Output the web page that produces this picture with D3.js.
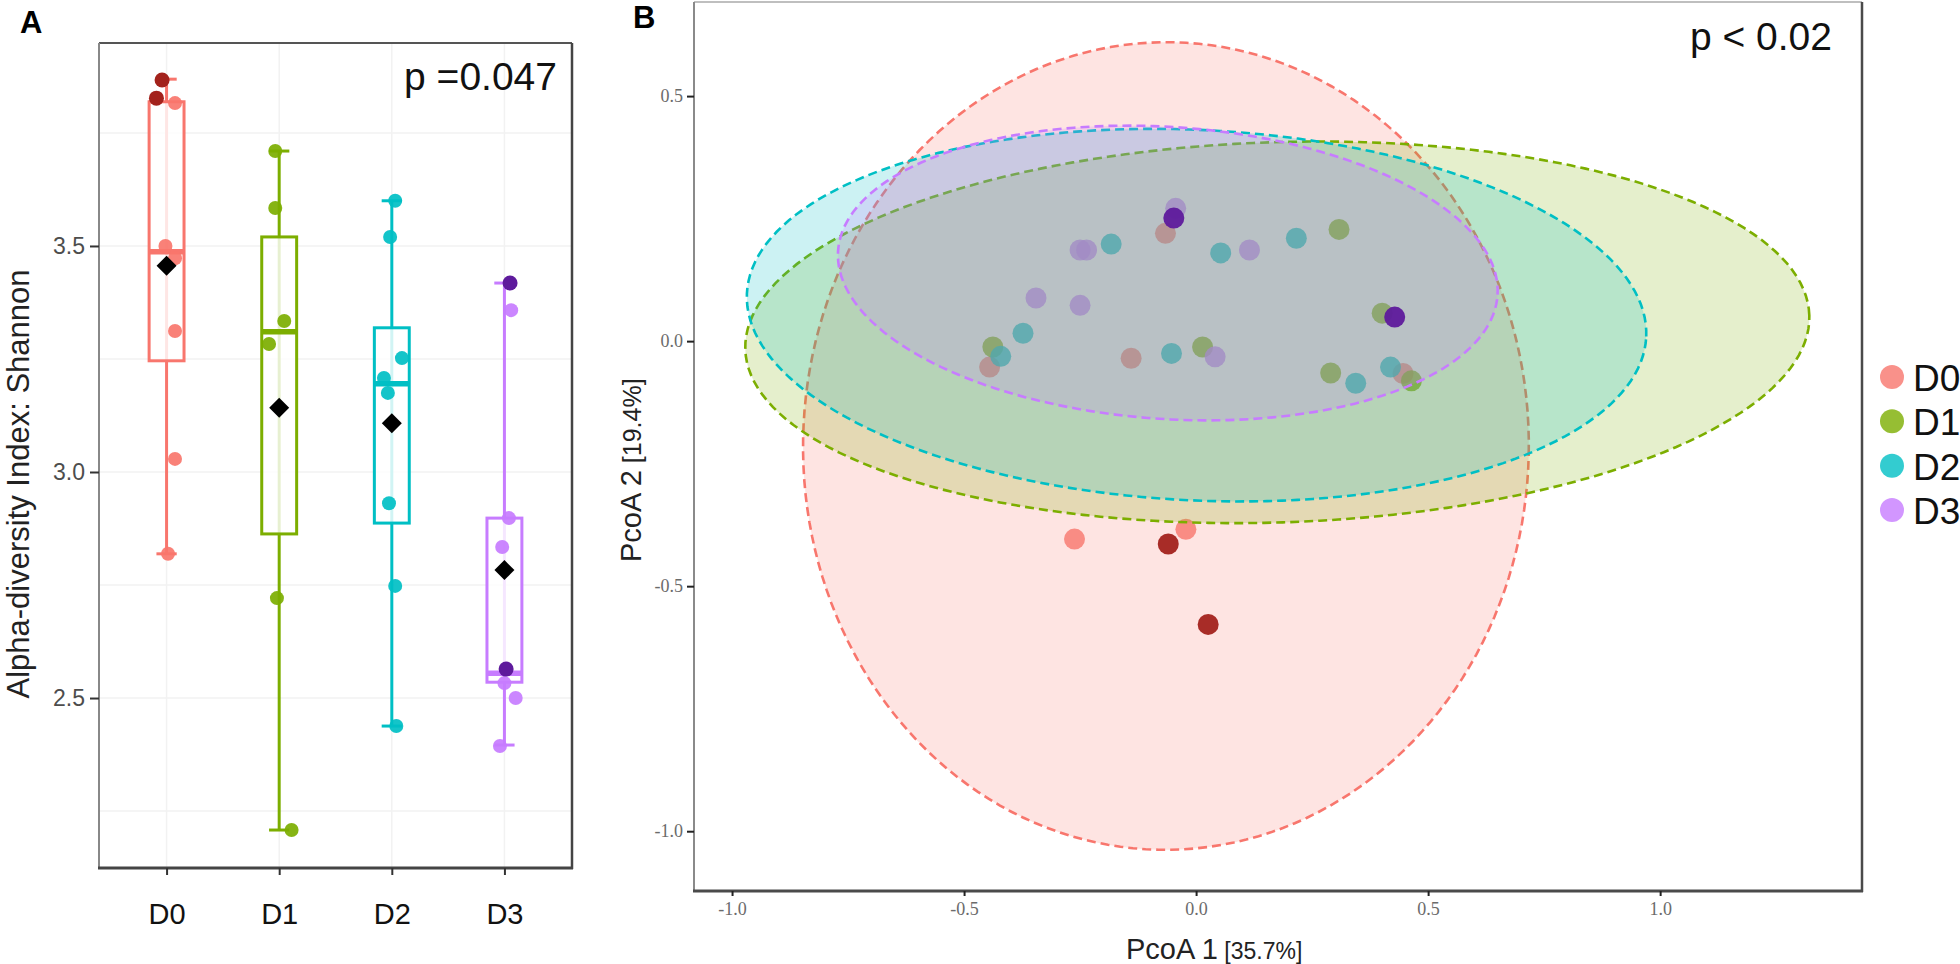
<!DOCTYPE html>
<html><head><meta charset="utf-8">
<script src="https://cdn.jsdelivr.net/npm/d3@7"></script>
<style>body{margin:0;background:#fff;} svg{display:block;font-family:"Liberation Sans",Arial,sans-serif;}</style>
</head><body><svg id="c" width="1960" height="964"></svg>
<script>
// ---------- shared ----------
const groups = ["D0", "D1", "D2", "D3"];
const groupColors = ["#F8766D", "#7CAE00", "#00BFC4", "#C77CFF"];
const highlightColors = ["#A3221C", "#4E6E00", "#00787C", "#5E1A9C"];

// ---------- Panel A: Shannon boxplots ----------
const yTicksA = [2.5, 3.0, 3.5];
const yDomainA = [2.124, 3.949];
const whiskerLow = [2.819, 2.208, 2.438, 2.396];
const whiskerHigh = [3.869, 3.710, 3.600, 3.418];
const q1 = [3.246, 2.863, 2.887, 2.535];
const medians = [3.487, 3.310, 3.195, 2.555];
const q3 = [3.819, 3.520, 3.319, 2.898];
const means = [3.456, 3.142, 3.108, 2.783];

const shannonD0 = [3.867, 3.827, 3.816, 3.500, 3.473, 3.312, 3.029, 2.819];
const jitterD0 = [-0.04, -0.09, 0.075, -0.01, 0.075, 0.075, 0.075, 0.013];
const markD0 = [1, 1, 0, 0, 0, 0, 0, 0];
const shannonD1 = [3.710, 3.584, 3.334, 3.283, 2.721, 2.208];
const jitterD1 = [-0.035, -0.035, 0.045, -0.09, -0.02, 0.11];
const markD1 = [0, 0, 0, 0, 0, 0];
const shannonD2 = [3.600, 3.520, 3.252, 3.208, 3.175, 2.931, 2.748, 2.438];
const jitterD2 = [0.03, -0.015, 0.09, -0.07, -0.035, -0.025, 0.03, 0.04];
const markD2 = [0, 0, 0, 0, 0, 0, 0, 0];
const shannonD3 = [3.418, 3.358, 2.898, 2.834, 2.564, 2.533, 2.500, 2.394];
const jitterD3 = [0.05, 0.06, 0.04, -0.02, 0.015, 0.0, 0.10, -0.04];
const markD3 = [1, 0, 0, 0, 1, 0, 0, 0];

// ---------- Panel B: PCoA ----------
const xTicksB = [-1.0, -0.5, 0.0, 0.5, 1.0];
const yTicksB = [-1.0, -0.5, 0.0, 0.5];
const xDomainB = [-1.082, 1.435];
const yDomainB = [-1.122, 0.692];

const pcoaD0x = [-0.066, -0.445, -0.140, 0.446, -0.262, -0.022, -0.060, 0.026];
const pcoaD0y = [0.220, -0.053, -0.035, -0.066, -0.404, -0.384, -0.414, -0.578];
const pcoaMarkD0 = [0, 0, 0, 0, 0, 0, 1, 1];
const pcoaD1x = [-0.438, 0.014, 0.308, 0.401, 0.290, 0.464];
const pcoaD1y = [-0.012, -0.012, 0.228, 0.057, -0.065, -0.081];
const pcoaMarkD1 = [0, 0, 0, 0, 0, 0];
const pcoaD2x = [-0.183, 0.053, 0.216, -0.373, -0.421, -0.053, 0.344, 0.419];
const pcoaD2y = [0.198, 0.180, 0.210, 0.016, -0.031, -0.025, -0.086, -0.053];
const pcoaMarkD2 = [0, 0, 0, 0, 0, 0, 0, 0];
const pcoaD3x = [-0.044, -0.250, -0.236, 0.115, -0.345, -0.250, 0.041, -0.048, 0.428];
const pcoaD3y = [0.271, 0.186, 0.186, 0.186, 0.088, 0.073, -0.032, 0.251, 0.049];
const pcoaMarkD3 = [0, 0, 0, 0, 0, 0, 0, 1, 1];

// ellipse (stat_ellipse) parameters per group, in data units
const ellipseCx = [-0.065, 0.175, 0.001, -0.061];
const ellipseCy = [-0.214, 0.018, 0.053, 0.139];
const ellipseA = [0.782, 1.147, 0.970, 0.712];
const ellipseB = [0.824, 0.388, 0.378, 0.298];
const ellipseAngle = [-0.02, 0.03, -0.045, -0.062];

const svg = d3.select("#c");

// ================= PANEL A =================
const xA = d3.scalePoint().domain(groups).range([99, 572]).padding(0.6);
const yA = d3.scaleLinear().domain(yDomainA).range([868, 43]);
const step = xA.step();
const gA = svg.append("g");

// faint grid
const gridA = gA.append("g");
[2.25, 2.5, 2.75, 3.0, 3.25, 3.5, 3.75].forEach(v => {
  gridA.append("line").attr("x1", 99).attr("x2", 572).attr("y1", yA(v)).attr("y2", yA(v))
    .attr("stroke", "#F2F2F2").attr("stroke-width", 1.5);
});
groups.forEach(g => {
  gridA.append("line").attr("x1", xA(g)).attr("x2", xA(g)).attr("y1", 43).attr("y2", 868)
    .attr("stroke", "#F2F2F2").attr("stroke-width", 1.5);
});

const valsA = [shannonD0, shannonD1, shannonD2, shannonD3];
const jitA = [jitterD0, jitterD1, jitterD2, jitterD3];
const markA = [markD0, markD1, markD2, markD3];
const boxW = 0.31 * step, capW = 0.18 * step;

groups.forEach((g, i) => {
  const cx = xA(g), col = groupColors[i];
  gA.append("line").attr("x1", cx).attr("x2", cx).attr("y1", yA(whiskerLow[i])).attr("y2", yA(whiskerHigh[i]))
    .attr("stroke", col).attr("stroke-width", 3);
  [whiskerLow[i], whiskerHigh[i]].forEach(v => {
    gA.append("line").attr("x1", cx - capW / 2).attr("x2", cx + capW / 2).attr("y1", yA(v)).attr("y2", yA(v))
      .attr("stroke", col).attr("stroke-width", 3);
  });
  gA.append("rect").attr("x", cx - boxW / 2).attr("width", boxW)
    .attr("y", yA(q3[i])).attr("height", yA(q1[i]) - yA(q3[i]))
    .attr("fill", "#fff").attr("fill-opacity", 0.82).attr("stroke", col).attr("stroke-width", 3);
  gA.append("line").attr("x1", cx - boxW / 2).attr("x2", cx + boxW / 2)
    .attr("y1", yA(medians[i])).attr("y2", yA(medians[i])).attr("stroke", col).attr("stroke-width", 5.5);
});
groups.forEach((g, i) => {
  const cx = xA(g);
  valsA[i].forEach((v, k) => {
    if (markA[i][k]) return;
    gA.append("circle").attr("cx", cx + jitA[i][k] * step).attr("cy", yA(v)).attr("r", 7)
      .attr("fill", groupColors[i]).attr("fill-opacity", 0.92);
  });
});
groups.forEach((g, i) => {
  const cx = xA(g);
  valsA[i].forEach((v, k) => {
    if (!markA[i][k]) return;
    gA.append("circle").attr("cx", cx + jitA[i][k] * step).attr("cy", yA(v)).attr("r", 7.5)
      .attr("fill", highlightColors[i]);
  });
});
groups.forEach((g, i) => {
  gA.append("path").attr("d", d3.symbol(d3.symbolSquare, 200)())
    .attr("transform", `translate(${xA(g)},${yA(means[i])}) rotate(45)`).attr("fill", "#000");
});
// frame
gA.append("line").attr("x1", 99).attr("x2", 572).attr("y1", 43).attr("y2", 43).attr("stroke", "#555").attr("stroke-width", 2);
gA.append("line").attr("x1", 99).attr("x2", 99).attr("y1", 43).attr("y2", 868).attr("stroke", "#888").attr("stroke-width", 2);
gA.append("line").attr("x1", 572).attr("x2", 572).attr("y1", 43).attr("y2", 869).attr("stroke", "#444").attr("stroke-width", 2.5);
gA.append("line").attr("x1", 98).attr("x2", 573).attr("y1", 868).attr("y2", 868).attr("stroke", "#444").attr("stroke-width", 3);

const axLA = gA.append("g").attr("transform", "translate(99,0)")
  .call(d3.axisLeft(yA).tickValues(yTicksA).tickSize(9).tickPadding(5).tickFormat(d3.format(".1f")));
axLA.select(".domain").remove();
axLA.selectAll("line").attr("stroke", "#333").attr("stroke-width", 2);
axLA.selectAll("text").attr("font-size", 23).attr("fill", "#4D4D4D").attr("font-family", "Liberation Sans, Arial, sans-serif");

const axBA = gA.append("g").attr("transform", "translate(0,868)")
  .call(d3.axisBottom(xA).tickSize(7).tickPadding(28));
axBA.select(".domain").remove();
axBA.selectAll("line").attr("stroke", "#333").attr("stroke-width", 2);
axBA.selectAll("text").attr("font-size", 29).attr("fill", "#111").attr("font-family", "Liberation Sans, Arial, sans-serif");

gA.append("text").attr("transform", "translate(29,484) rotate(-90)").attr("text-anchor", "middle")
  .attr("font-size", 31).attr("fill", "#222").text("Alpha-diversity Index: Shannon");
gA.append("text").attr("x", 557).attr("y", 90).attr("text-anchor", "end").attr("font-size", 39).attr("fill", "#111").text("p =0.047");
gA.append("text").attr("x", 20).attr("y", 33).attr("font-size", 31).attr("font-weight", "bold").attr("fill", "#000").text("A");

// ================= PANEL B =================
const xB = d3.scaleLinear().domain(xDomainB).range([694, 1862]);
const yB = d3.scaleLinear().domain(yDomainB).range([891, 2]);
const gB = svg.append("g");

const pxs = [pcoaD0x, pcoaD1x, pcoaD2x, pcoaD3x];
const pys = [pcoaD0y, pcoaD1y, pcoaD2y, pcoaD3y];
const pmk = [pcoaMarkD0, pcoaMarkD1, pcoaMarkD2, pcoaMarkD3];

groups.forEach((g, i) => {
  pxs[i].forEach((x, k) => {
    if (pmk[i][k]) return;
    gB.append("circle").attr("cx", xB(x)).attr("cy", yB(pys[i][k])).attr("r", 10.5)
      .attr("fill", groupColors[i]).attr("fill-opacity", 0.8);
  });
});

const line = d3.line().curve(d3.curveLinearClosed);
groups.forEach((g, i) => {
  const pts = [];
  const ca = Math.cos(ellipseAngle[i]), sa = Math.sin(ellipseAngle[i]);
  for (let k = 0; k < 180; k++) {
    const t = 2 * Math.PI * k / 180, c = Math.cos(t), s = Math.sin(t);
    const dx = ellipseA[i] * c * ca - ellipseB[i] * s * sa;
    const dy = ellipseA[i] * c * sa + ellipseB[i] * s * ca;
    pts.push([xB(ellipseCx[i] + dx), yB(ellipseCy[i] + dy)]);
  }
  gB.append("path").attr("d", line(pts))
    .attr("fill", groupColors[i]).attr("fill-opacity", 0.2)
    .attr("stroke", groupColors[i]).attr("stroke-width", 2.6).attr("stroke-dasharray", "9,5");
});

groups.forEach((g, i) => {
  pxs[i].forEach((x, k) => {
    if (!pmk[i][k]) return;
    gB.append("circle").attr("cx", xB(x)).attr("cy", yB(pys[i][k])).attr("r", 10.5)
      .attr("fill", highlightColors[i]).attr("fill-opacity", 0.95);
  });
});

gB.append("line").attr("x1", 694).attr("x2", 1862).attr("y1", 2).attr("y2", 2).attr("stroke", "#aaa").attr("stroke-width", 1.5);
gB.append("line").attr("x1", 694).attr("x2", 694).attr("y1", 2).attr("y2", 891).attr("stroke", "#8a8a8a").attr("stroke-width", 2);
gB.append("line").attr("x1", 1862).attr("x2", 1862).attr("y1", 2).attr("y2", 892).attr("stroke", "#4a4a4a").attr("stroke-width", 2.5);
gB.append("line").attr("x1", 693).attr("x2", 1863).attr("y1", 891).attr("y2", 891).attr("stroke", "#4a4a4a").attr("stroke-width", 3);

const fmtB = d => d.toFixed(1);
const axLB = gB.append("g").attr("transform", "translate(694,0)")
  .call(d3.axisLeft(yB).tickValues(yTicksB).tickSize(7).tickPadding(4).tickFormat(fmtB));
axLB.select(".domain").remove();
axLB.selectAll("line").attr("stroke", "#222").attr("stroke-width", 2);
axLB.selectAll("text").attr("font-size", 18).attr("fill", "#6b6b6b").attr("font-family", "Liberation Serif, Times New Roman, serif");

const axBB = gB.append("g").attr("transform", "translate(0,891)")
  .call(d3.axisBottom(xB).tickValues(xTicksB).tickSize(5).tickPadding(6).tickFormat(fmtB));
axBB.select(".domain").remove();
axBB.selectAll("line").attr("stroke", "#222").attr("stroke-width", 2);
axBB.selectAll("text").attr("font-size", 18).attr("fill", "#6b6b6b").attr("font-family", "Liberation Serif, Times New Roman, serif");

const xl = gB.append("text").attr("x", 1126).attr("y", 959).attr("fill", "#222");
xl.append("tspan").attr("font-size", 29).text("PcoA 1");
xl.append("tspan").attr("font-size", 23).text(" [35.7%]");

const yl = gB.append("text").attr("transform", "translate(641,562) rotate(-90)").attr("text-anchor", "start").attr("fill", "#222");
yl.append("tspan").attr("font-size", 29).text("PcoA 2");
yl.append("tspan").attr("font-size", 25).text(" [19.4%]");

gB.append("text").attr("x", 1832).attr("y", 50).attr("text-anchor", "end").attr("font-size", 39).attr("fill", "#111").text("p < 0.02");
gB.append("text").attr("x", 633).attr("y", 28).attr("font-size", 31).attr("font-weight", "bold").attr("fill", "#000").text("B");

const legY = d3.scalePoint().domain(groups).range([377, 510]);
groups.forEach((g, i) => {
  gB.append("circle").attr("cx", 1892).attr("cy", legY(g)).attr("r", 12)
    .attr("fill", groupColors[i]).attr("fill-opacity", 0.8);
  gB.append("text").attr("x", 1913).attr("y", legY(g) + 14).attr("font-size", 37).attr("fill", "#111").text(g);
});
</script></body></html>
